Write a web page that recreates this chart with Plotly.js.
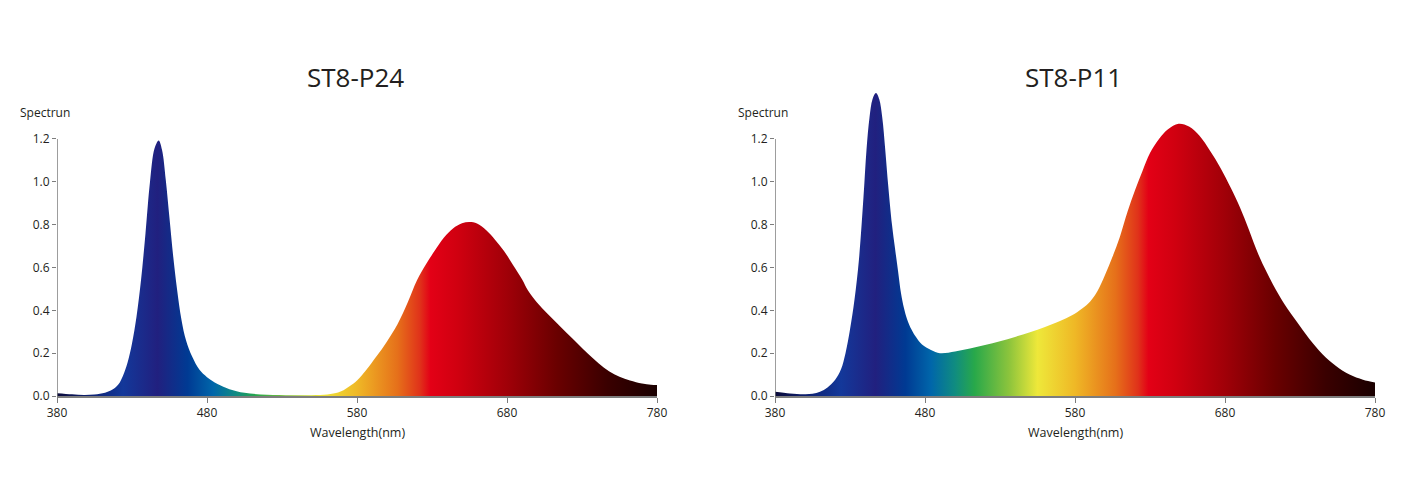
<!DOCTYPE html>
<html>
<head>
<meta charset="utf-8">
<script src="https://cdn.plot.ly/plotly-3.0.1.min.js"></script>
<style>
html,body{margin:0;padding:0;background:#fff;}
#chart{width:1412px;height:496px;}
</style>
</head>
<body>
<div id="chart"></div>
<script>
// ---- data ----
var titles = ["ST8-P24", "ST8-P11"];
var yLabel = "Spectrun";
var xLabel = "Wavelength(nm)";
var xTicks = [380, 480, 580, 680, 780];
var yTicks = [0, 0.2, 0.4, 0.6, 0.8, 1.0, 1.2];

var p24Wavelength = [380,390,398,405,412,417,421,424,427,430,433,436,439,442,445,447.8,450,452.5,455,457.5,460,463,466,470,475,480,487,495,505,520,540,558,566,571,575,580,586,593,600,607,614,620,626,632,638,644,650,655,660,666,672,678,684,690,694,700,707,714,720,727,734,741,748,755,762,770,776,780];
var p24Value = [0.013,0.008,0.005,0.007,0.015,0.03,0.055,0.095,0.155,0.245,0.37,0.54,0.76,1.0,1.155,1.193,1.15,1.01,0.83,0.65,0.50,0.355,0.26,0.185,0.122,0.088,0.056,0.032,0.015,0.006,0.004,0.006,0.014,0.027,0.045,0.072,0.12,0.185,0.255,0.335,0.44,0.54,0.615,0.68,0.74,0.782,0.806,0.812,0.805,0.775,0.73,0.677,0.612,0.545,0.493,0.437,0.384,0.335,0.293,0.245,0.197,0.153,0.116,0.09,0.072,0.058,0.052,0.051];

var p11Wavelength = [380,390,399,405,410,415,420,424,427,430,433,436,439,441,443,445,447.3,449.5,451.5,453.5,455.5,458,460,462,464,466,468,471,474,478,484,490,500,510,520,530,540,550,560,570,578,585,590,595,600,605,610,615,620,625,630,636,642,649,656,663,670,677,684,690,696,702,708,714,720,728,736,745,754,763,772,780];
var p11Value = [0.02,0.012,0.008,0.01,0.02,0.04,0.075,0.125,0.2,0.31,0.45,0.64,0.93,1.15,1.30,1.385,1.414,1.385,1.30,1.15,0.98,0.80,0.69,0.585,0.48,0.41,0.36,0.31,0.275,0.24,0.215,0.20,0.208,0.222,0.238,0.256,0.276,0.298,0.322,0.35,0.377,0.41,0.44,0.49,0.565,0.65,0.745,0.86,0.96,1.05,1.134,1.20,1.245,1.271,1.258,1.215,1.145,1.065,0.97,0.88,0.775,0.665,0.575,0.495,0.425,0.345,0.268,0.195,0.14,0.10,0.076,0.063];

// wavelength -> colour stops of the spectrum fill
var spectrumNm = [380,400,424,447,467,484,500,513,536,555,580,607,622,629,647,680,713,747,780];
var spectrumColor = ["#0b0b3a","#0d1f6e","#13389a","#21207f","#003a93","#0066aa","#108c80","#28a84a","#8cc43c","#eee83a","#efb826","#e6701a","#e0321a","#e30016","#d00010","#a00008","#6a0000","#3a0000","#1a0000"];

// ---- build ----
var nmMin = 380, nmMax = 780;
var colorscale = spectrumNm.map(function(v, i){ return [(v - nmMin)/(nmMax - nmMin), spectrumColor[i]]; });

var W = 1412, H = 496;
var domLeft = [57/W, 657/W];
var domRight = [775/W, 1375/W];
var yRange = [0, 1.45];
var yDom = [100/H, (100 + 1.45*214.2)/H];

var font = "Open Sans, Noto Sans, Arial, sans-serif";
var textColor = "#231f20";
var axisGrey = "#7d7d7d";

function trace(x, y, xa, ya){
  return {
    x: x, y: y, xaxis: xa, yaxis: ya,
    type: "scatter", mode: "lines",
    line: {shape: "spline", smoothing: 1, width: 0, color: "rgba(0,0,0,0)"},
    fill: "tozeroy",
    fillgradient: {type: "horizontal", colorscale: colorscale, start: nmMin, stop: nmMax},
    hoverinfo: "x+y", showlegend: false
  };
}

var data = [
  trace(p24Wavelength, p24Value, "x", "y"),
  trace(p11Wavelength, p11Value, "x2", "y2")
];

function xaxis(dom, anchor){
  return {
    domain: dom, anchor: anchor, range: [nmMin, nmMax],
    tickvals: xTicks, ticktext: xTicks.map(String),
    ticks: "outside", ticklen: 5, tickwidth: 1, tickcolor: axisGrey,
    showline: true, linecolor: axisGrey, linewidth: 1.5,
    showgrid: false, zeroline: false, fixedrange: true,
    tickfont: {family: font, size: 12, color: textColor}
  };
}
function yaxis(anchor){
  return {
    domain: yDom, anchor: anchor, range: yRange,
    tickvals: yTicks, tickformat: ".1f",
    ticks: "outside", ticklen: 4, tickwidth: 1, tickcolor: axisGrey,
    showline: false, showgrid: false, zeroline: false, fixedrange: true,
    tickfont: {family: font, size: 12, color: textColor}
  };
}

var annotations = [];
var shapes = [];
[["x","y",domLeft],["x2","y2",domRight]].forEach(function(a, i){
  var cx = (a[2][0] + a[2][1]) / 2;
  annotations.push({xref: "paper", yref: "paper", x: (cx*W - 2)/W, y: (H-77)/H, text: titles[i], showarrow: false,
    xanchor: "center", yanchor: "middle", font: {family: font, size: 26, color: textColor}});
  annotations.push({xref: "paper", yref: "paper", x: (a[2][0]*W - 39)/W, y: (H-113)/H, text: yLabel, showarrow: false,
    xanchor: "left", yanchor: "middle", font: {family: font, size: 12, color: textColor}});
  annotations.push({xref: "paper", yref: "paper", x: cx, y: (H-432)/H, text: xLabel, showarrow: false,
    xanchor: "center", yanchor: "middle", font: {family: font, size: 12.5, color: textColor}});
  shapes.push({type: "line", xref: a[0], yref: a[1], x0: nmMin, x1: nmMin, y0: 0, y1: 1.2,
    line: {color: axisGrey, width: 1.5}});
});

var layout = {
  width: W, height: H,
  margin: {l: 0, r: 0, t: 0, b: 0},
  paper_bgcolor: "#ffffff", plot_bgcolor: "rgba(0,0,0,0)",
  xaxis: xaxis(domLeft, "y"), yaxis: yaxis("x"),
  xaxis2: xaxis(domRight, "y2"), yaxis2: yaxis("x2"),
  annotations: annotations, shapes: shapes,
  showlegend: false
};

Plotly.newPlot("chart", data, layout, {displayModeBar: false, staticPlot: true});
</script>
</body>
</html>
